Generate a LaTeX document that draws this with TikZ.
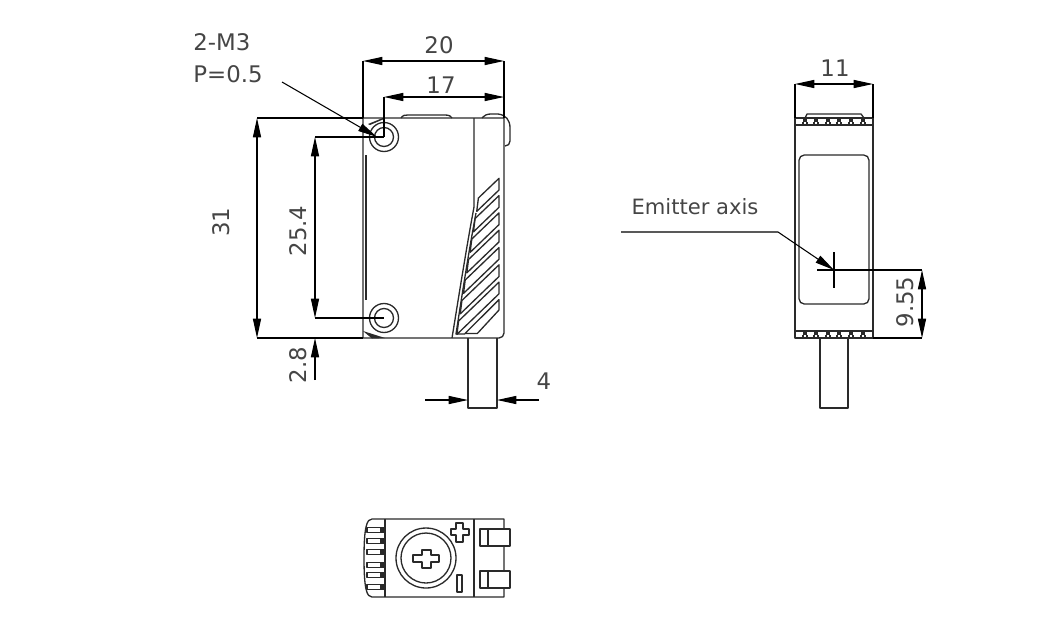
\documentclass[tikz,border=0pt]{standalone}
\usepackage{fontspec}
\setmainfont{DejaVu Sans}
\usepackage{xcolor}
\usetikzlibrary{arrows.meta}
\definecolor{inkline}{HTML}{2A2A2A}
\definecolor{inktext}{HTML}{454545}
\tikzset{
    outline/.style={draw=inkline, line width=0.75pt, line join=round},
    dimline/.style={draw=black, line width=0.6pt},
    dimarrow/.style={dimline, {Triangle[length=11pt, width=4.6pt]}-{Triangle[length=11pt, width=4.6pt]}},
    tiparrow/.style={dimline, -{Triangle[length=11pt, width=4.6pt]}},
    dimtext/.style={text=inktext, font=\fontsize{13}{16}\selectfont, inner sep=0pt}
}

\begin{document}
\begin{tikzpicture}[x=0.02cm, y=-0.02cm]
    \useasboundingbox (0, 0) rectangle (1060, 640);

    % front view
    \draw [outline] (363, 118) -- (363, 338) -- (499, 338) arc[start angle=90, end angle=0, radius=5] -- (504, 118) -- cycle;
    \draw [outline] (366, 155) -- (366, 300);
    \draw [outline] (401, 118) .. controls (403, 115) and (405, 115) .. (408, 115) -- (445, 115) .. controls (449, 115) and (451, 116) .. (452, 118);
    \draw [outline] (482, 118) .. controls (485, 115) and (487, 114) .. (491, 114) -- (498, 114) .. controls (506, 115) and (510, 120) .. (510, 128) -- (510, 141) .. controls (510, 144) and (508, 146) .. (505, 146);
    \draw [outline] (474, 118) -- (474, 207) .. controls (466, 250) and (459, 295) .. (452, 338);
    \draw [outline] (476, 213) .. controls (469, 250) and (462, 295) .. (456, 334) -- (465, 334);
    \fill [inkline] (368, 124) -- (384, 117.5) -- (384, 119) -- (370, 125) -- cycle;
    \fill [inkline] (363, 331) -- (385, 338) -- (372, 338.5) -- cycle;
    \foreach \k in {0, ..., 6} {
        \draw [outline] (499, 178.3+17.3*\k) -- (499, 190+17.3*\k)
            -- (476.7-3.3*\k, 211.4+20.5*\k) -- (478.4-3.3*\k, 198+20.5*\k) -- cycle;
    }
    \draw [outline] (499, 299.6) -- (499, 310) -- (477.3, 333.5) -- (465, 333.5) -- cycle;
    \foreach \cy in {137, 318} {
        \draw [outline, fill=white] (384, \cy) circle[radius=14.5];
        \draw [outline] (384, \cy) circle[radius=9.5];
    }
    \draw [outline] (468, 338) -- (468, 408) -- (497, 408) -- (497, 338);

    % dimensions of the front view
    \coordinate (a20) at (363, 61);
    \coordinate (b20) at (504, 61);
    \coordinate (a17) at (384, 97);
    \coordinate (b17) at (504, 97);
    \coordinate (a31) at (257, 118);
    \coordinate (b31) at (257, 338);
    \coordinate (a254) at (315, 137);
    \coordinate (b254) at (315, 318);
    \coordinate (holetop) at (384, 137);
    \coordinate (holelow) at (384, 318);
    \coordinate (edgetop) at (363, 118);
    \coordinate (edgelow) at (363, 338);
    \coordinate (edgeright) at (504, 118);
    \coordinate (tip28) at (315, 338);
    \coordinate (end28) at (315, 380);
    \coordinate (tipleft) at (468, 400);
    \coordinate (endleft) at (425, 400);
    \coordinate (tipright) at (497, 400);
    \coordinate (endright) at (539, 400);
    \coordinate (leadstart) at (282, 82);
    \coordinate (leadtip) at (377, 137);

    \draw [dimarrow] (a20) -- (b20);
    \draw [dimarrow] (a17) -- (b17);
    \draw [dimarrow] (a31) -- (b31);
    \draw [dimarrow] (a254) -- (b254);
    \draw [dimline] (a20) -- (edgetop);
    \draw [dimline] (b20) -- (edgeright);
    \draw [dimline] (a17) -- (holetop);
    \draw [dimline] (a31) -- (edgetop);
    \draw [dimline] (b31) -- (edgelow);
    \draw [dimline] (a254) -- (holetop);
    \draw [dimline] (b254) -- (holelow);
    \draw [tiparrow] (end28) -- (tip28);
    \draw [tiparrow] (endleft) -- (tipleft);
    \draw [tiparrow] (endright) -- (tipright);
    \draw [tiparrow] (leadstart) -- (leadtip);

    \node [dimtext, anchor=west] at (193, 42) (m3) {2-M3};
    \node [dimtext, anchor=west] at (193, 74) (pitch) {P=0.5};
    \node [dimtext] at (439, 45) (t20) {20};
    \node [dimtext] at (441, 85) (t17) {17};
    \node [dimtext, rotate=90] at (221, 222) (t31) {31};
    \node [dimtext, rotate=90] at (298, 231) (t254) {25.4};
    \node [dimtext, rotate=90] at (298, 365) (t28) {2.8};
    \node [dimtext] at (544, 381) (t4) {4};

    % side view
    \draw [outline] (795, 118) rectangle (873, 125);
    \draw [outline] (795, 331) rectangle (873, 338);
    \draw [outline] (795, 125) -- (795, 331);
    \draw [outline] (873, 125) -- (873, 331);
    \draw [outline] (805, 118) -- (807, 114) -- (861, 114) -- (864, 118);
    \foreach \tx in {805, 816, 828, 839, 851, 863} {
        \fill [inkline] (\tx-2, 118) rectangle (\tx+2, 122);
        \fill [inkline] (\tx-2, 331) rectangle (\tx+2, 335);
        \draw [outline] (\tx-2, 122) -- (\tx-2, 125);
        \draw [outline] (\tx+2, 122) -- (\tx+2, 125);
        \draw [outline] (\tx-2, 335) -- (\tx-2, 338);
        \draw [outline] (\tx+2, 335) -- (\tx+2, 338);
    }
    \draw [outline, rounded corners=3pt] (799, 155) rectangle (869, 304);
    \draw [outline] (820, 338) -- (820, 408) -- (848, 408) -- (848, 338);

    % dimensions of the side view
    \coordinate (a11) at (795, 84);
    \coordinate (b11) at (873, 84);
    \coordinate (sidea) at (795, 118);
    \coordinate (sideb) at (873, 118);
    \coordinate (axis) at (834, 270);
    \coordinate (axisup) at (834, 252);
    \coordinate (axisdown) at (834, 288);
    \coordinate (axisleft) at (817, 270);
    \coordinate (a955) at (922, 270);
    \coordinate (b955) at (922, 338);
    \coordinate (sidelow) at (873, 338);
    \coordinate (leadfar) at (621, 232);
    \coordinate (leadbend) at (778, 232);

    \draw [dimarrow] (a11) -- (b11);
    \draw [dimline] (a11) -- (sidea);
    \draw [dimline] (b11) -- (sideb);
    \draw [dimarrow] (a955) -- (b955);
    \draw [dimline] (axisleft) -- (a955);
    \draw [dimline] (sidelow) -- (b955);
    \draw [dimline] (axisup) -- (axisdown);
    \draw [tiparrow] (leadfar) -- (leadbend) -- (axis);

    \node [dimtext] at (835, 68) (t11) {11};
    \node [dimtext, rotate=90] at (905, 302) (t955) {9.55};
    \node [dimtext, font=\fontsize{12}{14}\selectfont] at (695, 207) (emitter) {Emitter axis};

    % bottom view
    \draw [outline] (372, 519) -- (504, 519) -- (504, 597) -- (372, 597)
        .. controls (367, 597) and (364, 590) .. (364, 558) .. controls (364, 526) and (367, 519) .. (372, 519) -- cycle;
    \draw [outline] (385, 519) -- (385, 597);
    \draw [outline] (474, 519) -- (474, 597);
    \foreach \vy in {530, 541, 552, 565, 575, 587} {
        \draw [outline, line width=0.6pt] (367, \vy-2.5) rectangle (384, \vy+2.5);
        \fill [inkline] (380, \vy-2.5) rectangle (384, \vy+2.5);
    }
    \draw [outline] (426, 558) circle[radius=30];
    \draw [outline] (426, 558) circle[radius=25];
    \draw [outline] (413, 555) -- (422, 555) -- (422, 550) -- (431, 550) -- (431, 555) -- (439, 555)
        -- (439, 562) -- (431, 562) -- (431, 568) -- (422, 568) -- (422, 562) -- (413, 562) -- cycle;
    \draw [outline] (451, 529) -- (456, 529) -- (456, 523) -- (463, 523) -- (463, 529) -- (469, 529)
        -- (469, 535) -- (463, 535) -- (463, 542) -- (456, 542) -- (456, 535) -- (451, 535) -- cycle;
    \draw [outline] (457, 575) rectangle (462, 592);
    \foreach \ty in {529, 571} {
        \draw [outline, fill=white] (480, \ty) rectangle (510, \ty+17);
        \draw [outline] (488, \ty) -- (488, \ty+17);
    }
\end{tikzpicture}
\end{document}
